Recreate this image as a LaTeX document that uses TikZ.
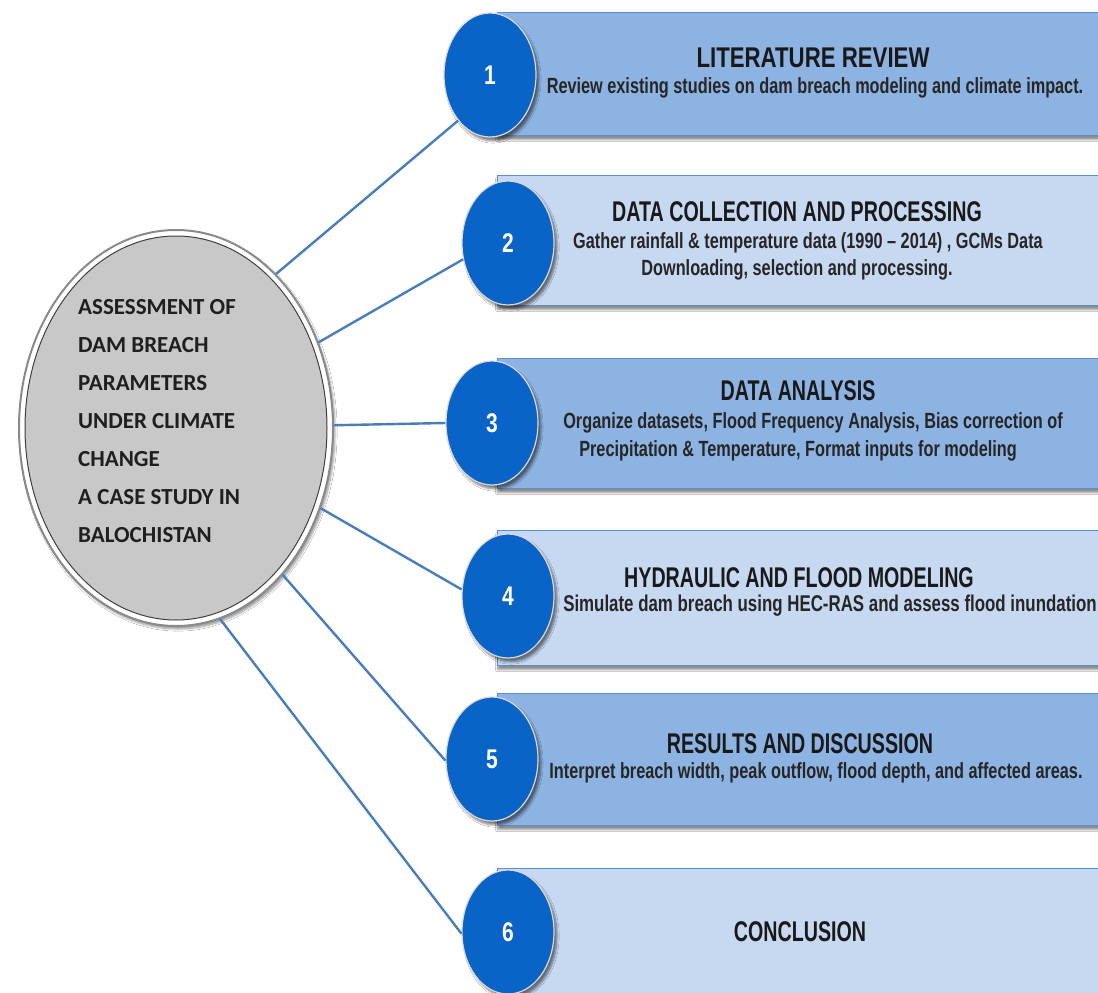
\documentclass[tikz,border=0pt]{standalone}
\usepackage{fontspec}
\setmainfont{Liberation Sans}
\newfontfamily\headfont[FakeStretch=0.78]{Liberation Sans}
\newfontfamily\condfont[FakeStretch=0.69]{Liberation Sans}
\newfontfamily\narrowfont[FakeStretch=0.74]{Liberation Sans}
\newfontfamily\roundfont{Carlito}
\usetikzlibrary{shapes.geometric,shadows.blur}

\definecolor{bandDark}{HTML}{8DB3E2}
\definecolor{bandLight}{HTML}{C6D9F1}
\definecolor{bandLine}{HTML}{5B8FD2}
\definecolor{stepBlue}{HTML}{0A63C6}
\definecolor{linkBlue}{HTML}{4A7EBB}
\definecolor{hubFill}{HTML}{C8C8C8}
\definecolor{hubRing}{HTML}{8A8A8A}

\tikzset{
  band/.style={rectangle, draw=bandLine, line width=1.2pt, anchor=north west,
    minimum width=603pt, inner sep=0pt,
    blur shadow={shadow xshift=0pt, shadow yshift=-4pt, shadow blur steps=6, shadow opacity=45}},
  stepdisc/.style={ellipse, fill=stepBlue, draw=white!85!black, line width=1.2pt,
    minimum width=92pt, minimum height=124pt, inner sep=0pt, text=white,
    font=\headfont\bfseries\fontsize{27}{30}\selectfont,
    blur shadow={shadow xshift=3pt, shadow yshift=-4pt, shadow blur steps=6, shadow opacity=50}},
  ttl/.style={font=\condfont\bfseries\fontsize{28.5}{31}\selectfont, inner sep=0pt, text=black!90},
  bigttl/.style={font=\headfont\bfseries\fontsize{28.5}{31}\selectfont, inner sep=0pt, text=black!90},
  sub/.style={font=\narrowfont\bfseries\fontsize{22}{24}\selectfont, inner sep=0pt, text=black!85},
  link/.style={draw=linkBlue, line width=2.4pt},
  hubline/.style={font=\roundfont\bfseries\fontsize{23}{26}\selectfont, anchor=west, inner sep=0pt, text=black!88}
}

\begin{document}
\begin{tikzpicture}[x=1pt,y=-1pt]
\useasboundingbox (0,0) rectangle (1098,993);
\fill[white] (0,0) rectangle (1098,993);

% central ellipse (outer ring)
\node[ellipse, draw=hubRing, line width=2pt, fill=white, minimum width=314pt, minimum height=396pt,
  inner sep=0pt, blur shadow={shadow xshift=2pt, shadow yshift=-3pt, shadow blur steps=6, shadow opacity=40}]
  (hub) at (176,428) {};
\node[ellipse, draw=black!75, line width=1pt, fill=hubFill, minimum width=302pt, minimum height=384pt,
  inner sep=0pt] (hubin) at (hub.center) {};

% bands
\node[band, fill=bandDark,  minimum height=123pt] (b1) at (497,12) {};
\node[band, fill=bandLight, minimum height=130pt] (b2) at (497,175) {};
\node[band, fill=bandDark,  minimum height=130pt] (b3) at (497,358) {};
\node[band, fill=bandLight, minimum height=135pt] (b4) at (497,530) {};
\node[band, fill=bandDark,  minimum height=132pt] (b5) at (497,693) {};
\node[band, fill=bandLight, minimum height=140pt] (b6) at (497,868) {};

% numbered discs
\node[stepdisc] (c1) at (490,75) {1};
\node[stepdisc] (c2) at (508,243) {2};
\node[stepdisc] (c3) at (492,423) {3};
\node[stepdisc] (c4) at (508,596) {4};
\node[stepdisc] (c5) at (492,759) {5};
\node[stepdisc] (c6) at (508,932) {6};

% connectors from the hub to each step
\draw[link] (hub.57)  -- (c1.235);
\draw[link] (hub.31)  -- (c2.200);
\draw[link] (hub.1)   -- (c3.180);
\draw[link] (hub.-29) -- (c4.172);
\draw[link] (hub.-54) -- (c5.182);
\draw[link] (hub.-77) -- (c6.182);

% hub text
\node[hubline] (h1) at (78,307) {ASSESSMENT OF};
\node[hubline] (h2) at (78,345) {DAM BREACH};
\node[hubline] (h3) at (78,383) {PARAMETERS};
\node[hubline] (h4) at (78,421) {UNDER CLIMATE};
\node[hubline] (h5) at (78,459) {CHANGE};
\node[hubline] (h6) at (78,497) {A CASE STUDY IN};
\node[hubline] (h7) at (78,535) {BALOCHISTAN};

% step texts
\node[bigttl] (t1) at (813,58) {LITERATURE REVIEW};
\node[sub] (s1) at (815,88) {Review existing studies on dam breach modeling and climate impact.};

\node[ttl] (t2) at (797,212) {DATA COLLECTION AND PROCESSING};
\node[sub] (s2a) at (808,243) {Gather rainfall \& temperature data (1990 – 2014) , GCMs Data};
\node[sub] (s2b) at (797,270) {Downloading, selection and processing.};

\node[ttl] (t3) at (798,391) {DATA ANALYSIS};
\node[sub] (s3a) at (813,423) {Organize datasets, Flood Frequency Analysis, Bias correction of};
\node[sub] (s3b) at (798,451) {Precipitation \& Temperature, Format inputs for modeling};

\node[ttl] (t4) at (799,578) {HYDRAULIC AND FLOOD MODELING};
\node[sub, font=\narrowfont\bfseries\fontsize{22.8}{24}\selectfont] (s4) at (830,606) {Simulate dam breach using HEC-RAS and assess flood inundation};

\node[ttl] (t5) at (800,744) {RESULTS AND DISCUSSION};
\node[sub] (s5) at (816,773) {Interpret breach width, peak outflow, flood depth, and affected areas.};

\node[ttl] (t6) at (800,932) {CONCLUSION};
\end{tikzpicture}
\end{document}
